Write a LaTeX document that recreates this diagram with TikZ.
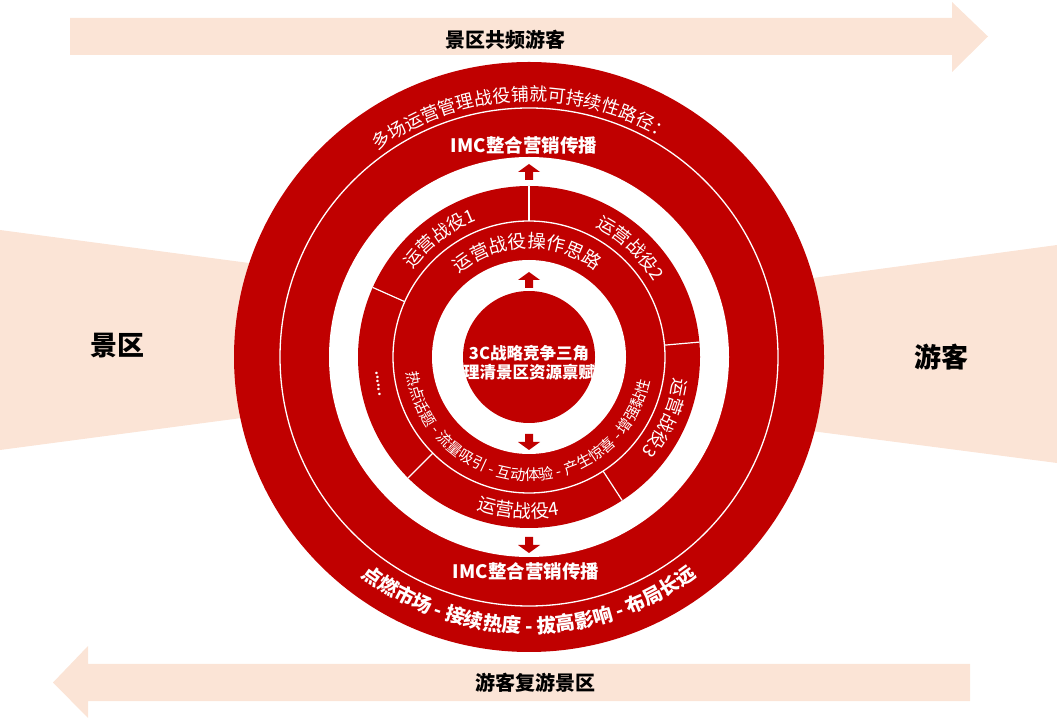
\documentclass[tikz,border=0pt]{standalone}
\usepackage{fontspec}
\setmainfont{Noto Sans CJK SC}
\usetikzlibrary{decorations.text,calc}
\definecolor{ringred}{RGB}{192,0,0}
\definecolor{peach}{RGB}{251,228,214}
\newcommand\ringtext[5]{%
  \path[decorate,decoration={text along path,text align=center,text color=white,
    text={|#4|#5}}] (C) ++(#2:#1) arc[start angle=#2,end angle=#3,radius=#1];}
\begin{document}
\begin{tikzpicture}[x=1pt,y=1pt,
  ringfill/.style={fill=ringred},
  gapfill/.style={fill=white},
  thinline/.style={draw=white,line width=1.3pt},
  divider/.style={draw=white,line width=1.2pt},
  bandlbl/.style={text=black,font=\bfseries\fontsize{20}{20}\selectfont,inner sep=0pt},
  sidelbl/.style={text=black,font=\bfseries\fontsize{27}{27}\selectfont,inner sep=0pt},
  imclbl/.style={text=white,font=\bfseries\fontsize{18.5}{18.5}\selectfont,inner sep=0pt},
  corelbl/.style={text=white,font=\bfseries\fontsize{16.5}{16.5}\selectfont,inner sep=0pt},
  uparr/.pic={\fill[ringred] (-4,-8) -- (4,-8) -- (4,0) -- (11,0) -- (0,8) -- (-11,0) -- (-4,0) -- cycle;}]
\useasboundingbox (0,0) rectangle (1057,720);
\coordinate (C) at (529,363);
% background bands
\fill[peach] (70,665) -- (952,665) -- (952,648) -- (988,683.5) -- (952,718) -- (952,702) -- (70,702) -- cycle;
\fill[peach] (970,19) -- (88,19) -- (88,2) -- (53,37.5) -- (88,74) -- (88,56) -- (970,56) -- cycle;
\fill[peach] (0,490) -- (400,437) -- (400,323) -- (0,270) -- cycle;
\fill[peach] (650,420) -- (1057,475) -- (1057,257) -- (650,310) -- cycle;
\node[bandlbl] (top) at (505,680) {景区共频游客};
\node[bandlbl] (bot) at (535,37) {游客复游景区};
\node[sidelbl] (left) at (117,374) {景区};
\node[sidelbl] (right) at (941,363) {游客};
% rings
\fill[ringfill] (C) circle[radius=295];
\fill[gapfill] (C) circle[radius=200];
\fill[ringfill] (C) circle[radius=171];
\fill[gapfill] (C) circle[radius=97];
\fill[ringfill] (C) circle[radius=66];
\draw[thinline] (C) circle[radius=249];
\draw[thinline] (C) circle[radius=136];
\foreach \a in {90,156,5,-57,-135} \draw[divider] (C) ++(\a:136) -- ++(\a:35);
% arrows
\pic at (529,548) {uparr};
\pic at (529,440) {uparr};
\pic[rotate=180] at (529,278) {uparr};
\pic[rotate=180] at (529,175) {uparr};
% texts
\node[imclbl] (imctop) at (524,575) {IMC整合营销传播};
\node[imclbl] (imcbot) at (526,149) {IMC整合营销传播};
\node[corelbl] (core1) at (529,367) {3C战略竞争三角};
\node[corelbl] (core2) at (529,348) {理清景区资源禀赋};
\ringtext{256}{182}{2}{\fontsize{18}{18}\selectfont}{多场运营管理战役铺就可持续性路径：}
\ringtext{276}{-180}{0}{\bfseries\fontsize{19.5}{19.5}\selectfont}{点燃市场 - 接续热度 - 拔高影响 - 布局长远}
\ringtext{109}{181}{1}{\fontsize{18.5}{18.5}\selectfont}{运营战役操作思路}
\ringtext{146}{217}{37}{\fontsize{18}{18}\selectfont}{运营战役1}
\ringtext{146}{137}{-43}{\fontsize{18}{18}\selectfont}{运营战役2}
\ringtext{147}{66}{-114}{\fontsize{18}{18}\selectfont}{运营战役3}
\ringtext{161}{-184}{-4}{\fontsize{18.5}{18.5}\selectfont}{运营战役4}
\ringtext{123.5}{178}{358}{\fontsize{15}{15}\selectfont}{热点话题 - 流量吸引 - 互动体验 - 产生惊喜 - 增强黏性}
\node[text=white,font=\bfseries\fontsize{12}{12}\selectfont,inner sep=0pt,rotate=-82] (dots) at ($(C)+(190:153)$) {......};
\end{tikzpicture}
\end{document}
